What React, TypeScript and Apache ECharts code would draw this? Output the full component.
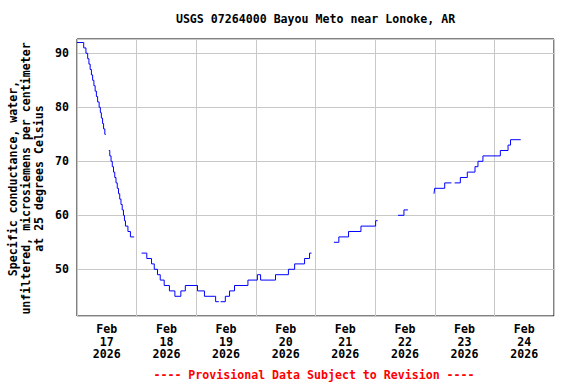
import React, { useEffect, useRef } from 'react';
import * as echarts from 'echarts';

const chartTitle = 'USGS 07264000 Bayou Meto near Lonoke, AR';
const yAxisTitleLines = [
  'Specific conductance, water,',
  'unfiltered, microsiemens per centimeter',
  'at 25 degrees Celsius',
];
const footerText = '---- Provisional Data Subject to Revision ----';
const monthLabel = 'Feb';
const yearLabel = '2026';
const dayLabels = ['17', '18', '19', '20', '21', '22', '23', '24'];
const yTickValues = [50, 60, 70, 80, 90];

// hours since Feb 17 2026 00:00 ; null value = gap in record (placed at the end time of the previous run)
const obsHours = [
  0, 2.7, 3.6, 4.3, 4.8, 5.3, 5.8, 6.3, 6.8, 7.3, 7.8, 8.3, 8.9, 9.4, 9.8, 10.3, 10.7, 11.2, 11.6,
  11.6,
  12.8, 13.2, 13.7, 14.2, 14.7, 15.2, 15.7, 16.2, 16.7, 17.2, 17.7, 18.2, 18.7, 19.1, 19.5, 20.5, 21.5, 23.0,
  23.0,
  26.0, 28.1, 30.0, 31.1, 32.4, 33.5, 35.1, 37.2, 39.4, 41.8, 43.6, 48.5, 51.3, 55.8, 57.1,
  57.1,
  57.8, 59.7, 61.4, 63.4, 68.8, 72.6, 73.9, 79.9, 85.1, 87.6, 91.6, 93.6, 94.4,
  94.4,
  103.4, 105.4, 109.3, 114.3, 120.2, 121.0,
  121.0,
  129.2, 131.6, 133.2,
  133.2,
  143.7, 143.96, 148.0, 150.7,
  150.7,
  152.0, 154.3, 157.1, 160.2, 161.4, 163.4, 170.4, 173.5, 174.5, 178.6,
];
const obsValues: (number | null)[] = [
  92, 91, 90, 89, 88, 87, 86, 85, 84, 83, 82, 81, 80, 79, 78, 77, 76, 75, 75,
  null,
  72, 71, 70, 69, 68, 67, 66, 65, 64, 63, 62, 61, 60, 59, 58, 57, 56, 56,
  null,
  53, 52, 51, 50, 49, 48, 47, 46, 45, 46, 47, 46, 45, 44, 44,
  null,
  44, 45, 46, 47, 48, 49, 48, 49, 50, 51, 52, 53, 53,
  null,
  55, 56, 57, 58, 59, 59,
  null,
  60, 61, 61,
  null,
  64, 65, 66, 66,
  null,
  66, 67, 68, 69, 70, 71, 72, 73, 74, 74,
];

const FONT = 'DejaVu Sans Mono';
const FS = 11.6;

export default function App() {
  const ref = useRef<HTMLDivElement>(null);
  useEffect(() => {
    if (!ref.current) return;
    const chart = echarts.init(ref.current, null, { renderer: 'svg' });
    const data = obsHours.map((h, i) => [h, obsValues[i] === null ? '-' : obsValues[i]]);
    const labelStyle = {
      fontFamily: FONT,
      fontWeight: 'bold' as const,
      fontSize: FS,
      color: '#000',
    };
    chart.setOption({
      animation: false,
      backgroundColor: '#fff',
      grid: {
        left: 77,
        right: 22,
        top: 39,
        bottom: 68,
        show: true,
        borderColor: '#000',
        borderWidth: 1,
        backgroundColor: 'transparent',
        containLabel: false,
      },
      xAxis: [
        {
          type: 'value',
          min: 0,
          max: 192,
          interval: 24,
          axisLine: { show: false },
          axisTick: { show: false },
          axisLabel: { show: false },
          splitLine: { show: true, lineStyle: { color: '#c8c8c8', width: 1 } },
        },
        {
          type: 'value',
          position: 'bottom',
          min: 0,
          max: 192,
          interval: 12,
          axisLine: { show: false },
          axisTick: { show: false },
          splitLine: { show: false },
          axisLabel: {
            ...labelStyle,
            margin: 7,
            lineHeight: 12.5,
            showMinLabel: false,
            showMaxLabel: false,
            formatter: (v: number) => {
              if (Math.round(v) % 24 !== 12) return '';
              const idx = Math.round((v - 12) / 24);
              const d = dayLabels[idx];
              return d ? `${monthLabel}\n${d}\n${yearLabel}` : '';
            },
          },
        },
      ],
      yAxis: {
        type: 'value',
        min: 41.35,
        max: 92.65,
        splitNumber: 5,
        axisLine: { show: false },
        axisTick: { show: false },
        splitLine: { show: true, lineStyle: { color: '#c8c8c8', width: 1 } },
        axisLabel: {
          ...labelStyle,
          margin: 8,
          showMinLabel: false,
          showMaxLabel: false,
          formatter: (v: number) => {
            const r = Math.round(v * 1000) / 1000;
            return yTickValues.includes(r) ? String(r) : '';
          },
        },
      },
      series: [
        {
          type: 'line',
          xAxisIndex: 0,
          data,
          step: 'end',
          showSymbol: false,
          connectNulls: false,
          lineStyle: { color: '#0000ff', width: 1 },
          itemStyle: { color: '#0000ff' },
          z: 5,
        },
      ],
      graphic: [
        {
          type: 'text',
          x: 315.5,
          y: 19,
          style: {
            text: chartTitle,
            fontFamily: FONT,
            fontWeight: 'bold',
            fontSize: FS,
            fill: '#000',
            align: 'center',
            verticalAlign: 'middle',
          },
        },
        {
          type: 'text',
          x: 26,
          y: 178.5,
          rotation: Math.PI / 2,
          style: {
            text: yAxisTitleLines.join('\n'),
            fontFamily: FONT,
            fontWeight: 'bold',
            fontSize: FS,
            lineHeight: 13,
            fill: '#000',
            align: 'center',
            verticalAlign: 'middle',
          },
        },
        {
          type: 'text',
          x: 314,
          y: 375,
          style: {
            text: footerText,
            fontFamily: FONT,
            fontWeight: 'bold',
            fontSize: FS,
            fill: '#ff0000',
            align: 'center',
            verticalAlign: 'middle',
          },
        },
      ],
    });
    return () => chart.dispose();
  }, []);
  return (
    <div
      ref={ref}
      style={{ position: 'fixed', left: 0, top: 0, width: 576, height: 384 }}
    />
  );
}
